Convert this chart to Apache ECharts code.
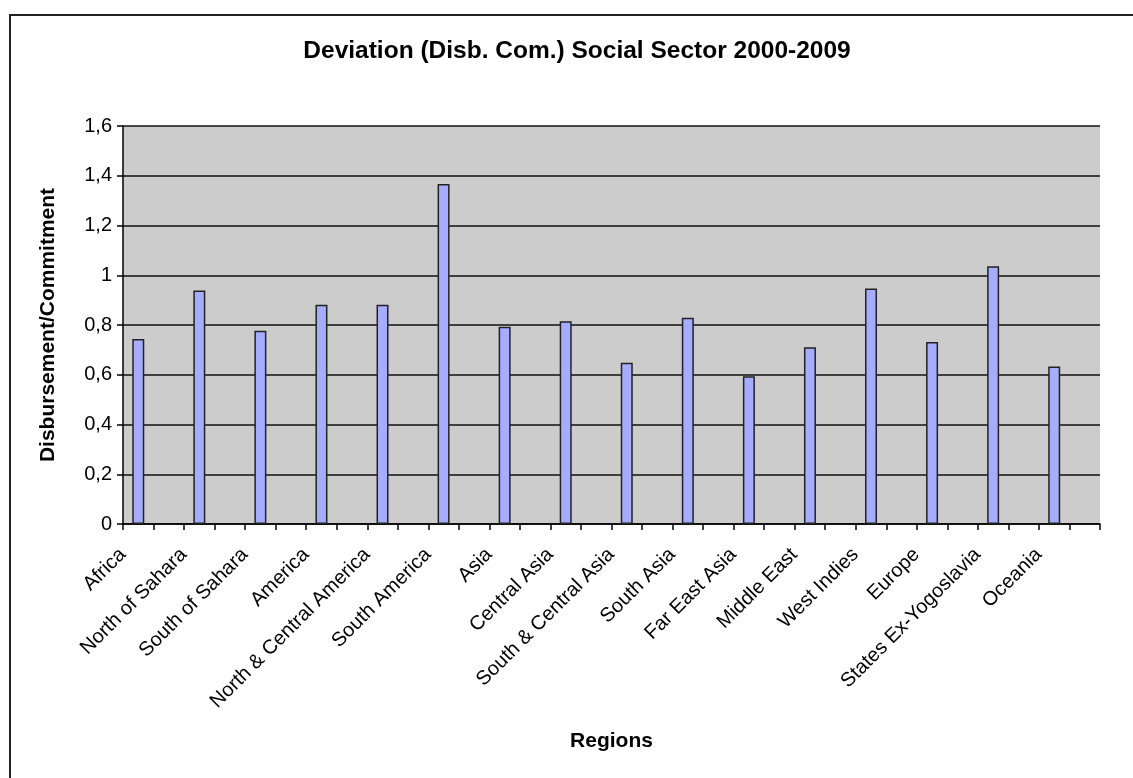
<!DOCTYPE html>
<html>
<head>
<meta charset="utf-8">
<script src="https://cdn.jsdelivr.net/npm/echarts@6/dist/echarts.min.js"></script>
<style>
html,body{margin:0;padding:0;background:#fff;}
#chart{width:1133px;height:778px;}
</style>
</head>
<body>
<div id="chart"></div>
<script>
const title = 'Deviation (Disb. Com.) Social Sector 2000-2009';
const categories = ['Africa','North of Sahara','South of Sahara','America','North & Central America','South America','Asia','Central Asia','South & Central Asia','South Asia','Far East Asia','Middle East','West Indies','Europe','States Ex-Yogoslavia','Oceania'];
const values = [0.744, 0.939, 0.777, 0.881, 0.881, 1.367, 0.793, 0.815, 0.648, 0.829, 0.594, 0.711, 0.947, 0.732, 1.036, 0.633];
const yTicks = { min: 0, max: 1.6, interval: 0.2 };
const yName = 'Disbursement/Commitment';
const xName = 'Regions';

// Excel chart uses a spacer slot between every region
const slots = [], slotData = [];
categories.forEach((c, i) => { slots.push(c); slotData.push(values[i]); slots.push(''); slotData.push(null); });

const font = '"Liberation Sans", Arial, sans-serif';
const chart = echarts.init(document.getElementById('chart'), null, {renderer: 'canvas'});
chart.setOption({
  animation: false,
  backgroundColor: '#fff',
  title: {
    text: title, left: 572, top: 34, textAlign: 'center',
    textStyle: {fontFamily: font, fontSize: 24.5, fontWeight: 'bold', color: '#000'}
  },
  graphic: [{
    type: 'rect', shape: {x: 10, y: 15, width: 1200, height: 800},
    style: {fill: 'none', stroke: '#222', lineWidth: 2}, silent: true
  }],
  grid: {left: 123, top: 126, width: 977, height: 398, show: true, backgroundColor: '#cccccc', borderWidth: 0},
  xAxis: {
    type: 'category', data: slots, boundaryGap: true,
    name: xName, nameLocation: 'middle', nameGap: 207,
    nameTextStyle: {fontFamily: font, fontSize: 21, fontWeight: 'bold', color: '#000'},
    axisLine: {lineStyle: {color: '#000', width: 1.5}},
    axisTick: {show: true, interval: 0, length: 6, lineStyle: {color: '#000', width: 1.5}},
    axisLabel: {interval: 0, rotate: 45, margin: 12, padding: [0, 22, 0, 0], fontFamily: font, fontSize: 20, color: '#000'},
    splitLine: {show: false}
  },
  yAxis: {
    type: 'value', min: yTicks.min, max: yTicks.max, interval: yTicks.interval,
    name: yName, nameLocation: 'middle', nameGap: 64, nameRotate: 90,
    nameTextStyle: {fontFamily: font, fontSize: 21, fontWeight: 'bold', color: '#000'},
    axisLine: {show: true, lineStyle: {color: '#000', width: 1.5}},
    axisTick: {show: true, length: 6, lineStyle: {color: '#000', width: 1.5}},
    axisLabel: {margin: 11, fontFamily: font, fontSize: 20, color: '#000',
      formatter: v => String(Math.round(v * 10) / 10).replace('.', ',')},
    splitLine: {show: true, lineStyle: {color: '#111', width: 1.5}}
  },
  series: [{
    type: 'bar', data: slotData, barWidth: 12,
    itemStyle: {color: '#a6acff', borderColor: '#222', borderWidth: 1.5}
  }]
});
</script>
</body>
</html>
